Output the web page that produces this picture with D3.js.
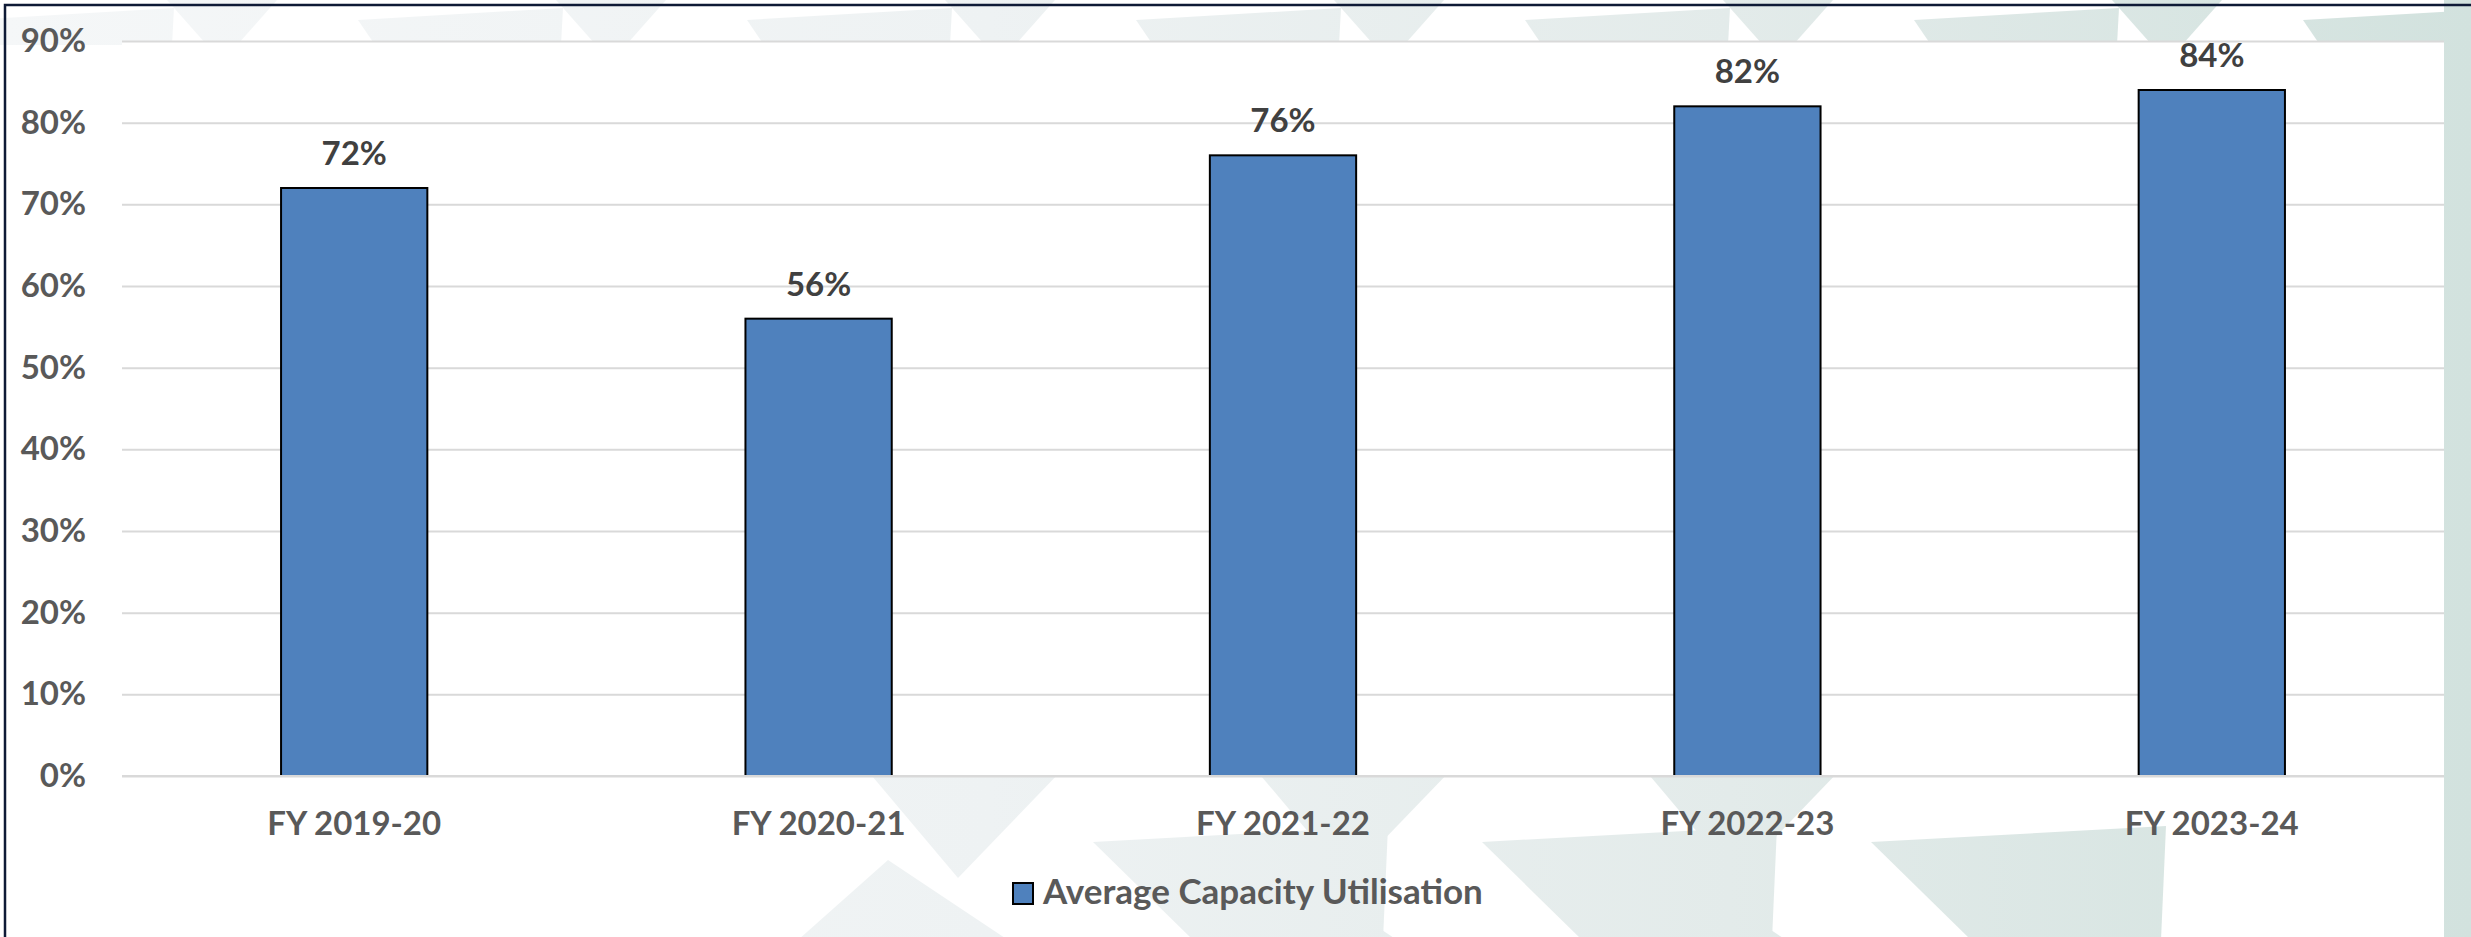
<!DOCTYPE html>
<html>
<head>
<meta charset="utf-8">
<script src="https://cdn.jsdelivr.net/npm/d3@7"></script>
<style>
  html, body { margin: 0; padding: 0; background: #ffffff; }
  svg { display: block; }
  svg text { font-family: Lato, "Open Sans", sans-serif; font-weight: 700; }
</style>
</head>
<body>
<div class="chart__container"></div>
<script>
//data
const categories = ["FY 2019-20", "FY 2020-21", "FY 2021-22", "FY 2022-23", "FY 2023-24"];
const utilisation = [0.72, 0.56, 0.76, 0.82, 0.84];
const yTicks = [0, 0.1, 0.2, 0.3, 0.4, 0.5, 0.6, 0.7, 0.8, 0.9];
const seriesName = "Average Capacity Utilisation";

const CHART__WIDTH = 2471;
const CHART__HEIGHT = 937;

const PLOT = { left: 122, right: 2444, top: 41, bottom: 776 };

const BAR_COLOR = "#4f81bd";
const TEXT_COLOR = "#595959";

/*---------------------------------scales---------------------------------*/

const xScale = d3.scaleBand()
    .domain(categories)
    .range([PLOT.left, PLOT.right])
    .paddingInner(0.685)
    .paddingOuter(0.3425);

const yScale = d3.scaleLinear()
    .domain([0, 0.9])
    .range([PLOT.bottom, PLOT.top]);

/*---------------------------------svg---------------------------------*/

const svg = d3.select(".chart__container").append("svg")
    .attr("width", CHART__WIDTH)
    .attr("height", CHART__HEIGHT);

//tint that gets greener to the right
const grad = svg.append("defs").append("linearGradient")
    .attr("id", "tint")
    .attr("gradientUnits", "userSpaceOnUse")
    .attr("x1", 0).attr("y1", 0)
    .attr("x2", CHART__WIDTH).attr("y2", 0);
[[0, "#f5f7f8"], [0.4, "#eef2f3"], [0.7, "#e3ebea"], [1, "#d2e2de"]].forEach(s => {
    grad.append("stop").attr("offset", s[0]).attr("stop-color", s[1]);
});

svg.append("rect")
    .attr("width", CHART__WIDTH)
    .attr("height", CHART__HEIGHT)
    .attr("fill", "#ffffff");

//decorative background shapes
const deco = svg.append("g").attr("fill", "url(#tint)");
const P = 389;
for (let k = -5; k < 3; k++) {
    const cx = 1778 + k * P;
    const a = 1048 + k * P;
    const shapes = [
        [[cx - 55, 0], [cx + 55, 0], [cx, 62]],
        [[cx - 253, 20], [cx - 48, 8], [cx - 50, 45], [cx - 236, 45]],
        [[a - 181, 770], [a + 14, 770], [a - 90, 878]],
        [[a + 45, 842], [a + 340, 826], [a + 335, 940], [a + 145, 940]],
        [[a - 250, 940], [a - 160, 860], [a - 40, 940]]
    ];
    shapes.forEach(pts => {
        if (a - 200 < 750 && pts[0][1] > 700) return;
        deco.append("polygon").attr("points", pts.map(p => p.join(",")).join(" "));
    });
}
deco.append("rect")
    .attr("x", PLOT.right)
    .attr("y", 0)
    .attr("width", CHART__WIDTH - PLOT.right)
    .attr("height", CHART__HEIGHT);

//white plot area
svg.append("rect")
    .attr("x", PLOT.left)
    .attr("y", PLOT.top)
    .attr("width", PLOT.right - PLOT.left)
    .attr("height", PLOT.bottom - PLOT.top)
    .attr("fill", "#ffffff");

//gridlines
const grid = svg.append("g")
    .attr("transform", `translate(${PLOT.left},0)`)
    .call(d3.axisLeft(yScale).tickValues(yTicks).tickSize(-(PLOT.right - PLOT.left)).tickFormat(""));
grid.select(".domain").remove();
grid.selectAll("line").attr("stroke", "#d9d9d9").attr("stroke-width", 2);

//bars
svg.append("g")
    .selectAll(".bar")
    .data(utilisation)
    .enter()
    .append("rect")
    .attr("class", "bar")
    .attr("x", (d, i) => xScale(categories[i]))
    .attr("y", d => yScale(d))
    .attr("width", xScale.bandwidth())
    .attr("height", d => yScale(0) - yScale(d))
    .attr("fill", BAR_COLOR)
    .attr("stroke", "#000000")
    .attr("stroke-width", 2);

//baseline over the bars
svg.append("line")
    .attr("x1", PLOT.left)
    .attr("x2", PLOT.right)
    .attr("y1", yScale(0))
    .attr("y2", yScale(0))
    .attr("stroke", "#d9d9d9")
    .attr("stroke-width", 2);

//value labels
svg.append("g")
    .selectAll(".label")
    .data(utilisation)
    .enter()
    .append("text")
    .attr("class", "label")
    .attr("x", (d, i) => xScale(categories[i]) + xScale.bandwidth() / 2)
    .attr("y", d => yScale(d) - 23)
    .attr("text-anchor", "middle")
    .attr("font-size", 33)
    .attr("fill", "#404040")
    .text(d3.format(".0%"));

//y-axis
const yAxis = svg.append("g")
    .attr("transform", `translate(${PLOT.left},0)`)
    .call(d3.axisLeft(yScale).tickValues(yTicks).tickSize(0).tickPadding(36).tickFormat(d3.format(".0%")));
yAxis.select(".domain").remove();
yAxis.selectAll("text")
    .attr("font-size", 33)
    .attr("fill", TEXT_COLOR);

//x-axis
const xAxis = svg.append("g")
    .attr("transform", `translate(0,${PLOT.bottom})`)
    .call(d3.axisBottom(xScale).tickSize(0));
xAxis.select(".domain").remove();
xAxis.selectAll("text")
    .attr("y", 59)
    .attr("dy", 0)
    .attr("font-size", 33)
    .attr("fill", TEXT_COLOR);

//legend
const legend = svg.append("g");
legend.append("rect")
    .attr("x", 1013)
    .attr("y", 883)
    .attr("width", 20)
    .attr("height", 21)
    .attr("fill", BAR_COLOR)
    .attr("stroke", "#000000")
    .attr("stroke-width", 2);
legend.append("text")
    .attr("x", 1043)
    .attr("y", 904)
    .attr("font-size", 35)
    .attr("fill", TEXT_COLOR)
    .text(seriesName);

//outer frame
svg.append("rect")
    .attr("x", 5)
    .attr("y", 5)
    .attr("width", CHART__WIDTH + 20)
    .attr("height", CHART__HEIGHT + 20)
    .attr("fill", "none")
    .attr("stroke", "#0e1a36")
    .attr("stroke-width", 2.5);
</script>
</body>
</html>
